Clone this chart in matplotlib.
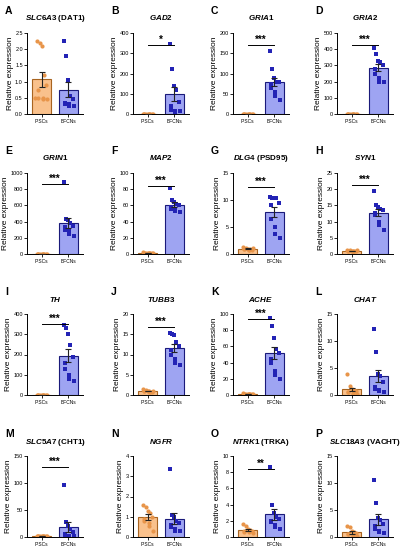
import numpy as np
import matplotlib
matplotlib.use("Agg")
import matplotlib.pyplot as plt

plt.rcParams["font.family"] = "Liberation Sans"
plt.rcParams["mathtext.fontset"] = "custom"
plt.rcParams["mathtext.it"] = "Liberation Sans:italic:bold"
plt.rcParams["mathtext.rm"] = "Liberation Sans:bold"

letters = list("ABCDEFGHIJKLMNOP")
titles = [r"$SLC6A3$ (DAT1)", r"$GAD2$", r"$GRIA1$", r"$GRIA2$",
          r"$GRIN1$", r"$MAP2$", r"$DLG4$ (PSD95)", r"$SYN1$",
          r"$TH$", r"$TUBB3$", r"$ACHE$", r"$CHAT$",
          r"$SLC5A7$ (CHT1)", r"$NGFR$", r"$NTRK1$ (TRKA)", r"$SLC18A3$ (VACHT)"]
ymax = [2.5, 400, 200, 500, 1000, 100, 15, 25, 400, 20, 100, 15, 150, 4, 10, 15]
ystep = [0.5, 100, 50, 100, 200, 20, 5, 5, 100, 5, 20, 5, 50, 1, 2, 5]
stars = ["", "*", "***", "***", "***", "***", "***", "***", "***", "***", "***", "", "***", "", "**", ""]
star_y = [0, 0.85, 0.85, 0.85, 0.86, 0.84, 0.83, 0.85, 0.88, 0.84, 0.94, 0, 0.87, 0, 0.84, 0]

ipsc = [
    [2.25, 2.2, 2.1, 1.2, 0.9, 0.75, 0.5, 0.48, 0.45, 0.45, 0.5],
    [1, 1, 1, 1, 1, 1, 1, 1, 1, 1],
    [1, 1, 1, 1, 1, 1, 1, 1, 1, 1],
    [1, 1, 1, 1, 1, 1, 1, 1, 1, 1],
    [1, 1, 1, 1, 1, 1, 1, 1, 1, 1],
    [2, 1.5, 1.2, 1, 0.8, 0.9, 1, 0.7, 0.8, 1.1],
    [1.3, 1.2, 1.0, 0.9, 0.8, 0.9, 1.0, 0.7, 0.8, 1.1],
    [1.2, 1.1, 1.0, 0.9, 0.8, 0.9, 1.0, 0.7, 0.8, 1.1],
    [1, 1, 1, 1, 1, 1, 1, 1, 1, 1],
    [1.5, 1.2, 1.0, 0.8, 0.7, 0.9, 1.0, 0.8, 0.9, 1.1],
    [2, 1.5, 1.2, 1, 0.8, 0.9, 1, 0.7, 0.8, 1.1],
    [3.8, 1.6, 1.2, 1.0, 0.8, 0.6, 0.5, 0.3, 0.2, 0.2],
    [1, 1, 1, 1, 1, 1, 1, 1, 1, 1],
    [1.6, 1.5, 1.3, 1.2, 1.0, 0.9, 0.8, 0.7, 0.55, 0.3],
    [1.6, 1.4, 1.0, 0.9, 0.8, 0.7, 0.6, 0.6, 0.7, 0.5],
    [2.0, 1.8, 1.2, 1.0, 0.8, 0.6, 0.5, 0.3, 0.2, 0.1],
]
bfcn = [
    [2.25, 1.78, 1.05, 0.55, 0.45, 0.35, 0.3, 0.3, 0.25, 0.25],
    [345, 220, 140, 120, 60, 40, 20, 15, 10, 15],
    [155, 112, 90, 80, 78, 75, 65, 55, 45, 35],
    [405, 370, 330, 320, 300, 280, 250, 220, 200, 195],
    [890, 430, 420, 380, 350, 330, 300, 280, 250, 220],
    [82, 67, 64, 62, 60, 58, 56, 55, 53, 52],
    [10.6, 10.4, 10.3, 10.3, 9.5, 9.0, 6.5, 5.0, 3.7, 3.0],
    [19.5, 15, 14.5, 14, 13.5, 12.5, 12, 10, 9, 7.5],
    [345, 330, 300, 245, 190, 160, 130, 100, 80, 70],
    [15.3, 15.0, 14.8, 13, 12, 11, 10, 9, 8, 7.3],
    [95, 85, 70, 57, 52, 45, 40, 30, 25, 20],
    [12.2, 8.0, 3.8, 3.5, 2.5, 1.5, 1.2, 1.0, 0.8, 0.6],
    [97, 28, 20, 15, 10, 5, 3, 2, 1, 1],
    [3.35, 1.1, 1.0, 0.8, 0.7, 0.6, 0.5, 0.4, 0.3, 0.3],
    [8.7, 3.9, 3.0, 2.5, 2.2, 2.0, 1.8, 1.5, 1.2, 1.0],
    [10.6, 6.3, 3.5, 3.2, 2.5, 2.0, 1.5, 1.2, 1.0, 0.8],
]

fig = plt.figure(figsize=(4.05, 5.5), dpi=100)
W, H = 405, 550
lefts = [27, 133, 233, 337]
tops = [33, 173, 314, 456]
aw, ah = 56, 81

for k in range(16):
    r, c = divmod(k, 4)
    ax = fig.add_axes([lefts[c] / W, 1 - (tops[r] + ah) / H, aw / W, ah / H])
    groups = [(ipsc[k], "#f9c18c", "#a86420", "#e8954a", "o"),
              (bfcn[k], "#9ea4f2", "#1a1a7a", "#2323b5", "s")]
    for i, (vals, fc, ec, pt, mk) in enumerate(groups):
        v = np.array(vals)
        m = v.mean()
        sem = v.std(ddof=1) / np.sqrt(len(v))
        ax.bar(i, m, width=0.72, color=fc, edgecolor=ec, linewidth=0.8, zorder=1)
        ax.errorbar(i, m, yerr=sem, color="#222222", capsize=2, lw=0.8, capthick=0.8, zorder=3)
        n = len(v)
        offs = np.array([((j % 5) - 2) * 0.08 + (0.04 if j % 2 else -0.04) * (j // 5) for j in range(n)])
        ax.scatter(i + offs, v, s=9, marker=mk, color=pt, zorder=2, linewidths=0)
    ax.set_xlim(-0.55, 1.55)
    ax.set_ylim(0, ymax[k])
    ax.set_yticks(np.arange(0, ymax[k] + ystep[k] / 2, ystep[k]))
    ax.set_xticks([0, 1])
    ax.set_xticklabels(["iPSCs", "BFCNs"], fontsize=3.5)
    ax.tick_params(axis="y", labelsize=4, length=2, width=0.6, pad=1)
    ax.tick_params(axis="x", length=2, width=0.6, pad=1.5)
    for s in ["top", "right"]:
        ax.spines[s].set_visible(False)
    for s in ["left", "bottom"]:
        ax.spines[s].set_linewidth(0.7)
    ax.set_ylabel("Relative expression", fontsize=6, labelpad=1)
    ax.set_title(titles[k], fontsize=5.8, fontweight="bold", pad=9)
    if stars[k]:
        y = star_y[k] * ymax[k]
        ax.plot([0, 1], [y, y], color="black", lw=0.7, clip_on=False)
        ax.text(0.5, y, stars[k], ha="center", va="bottom", fontsize=7, fontweight="bold")
    fig.text((lefts[c] - 22) / W, 1 - (tops[r] - 22) / H, letters[k], fontsize=7.5,
             fontweight="bold", va="center", ha="left")

fig.savefig("out.png", dpi=100)
